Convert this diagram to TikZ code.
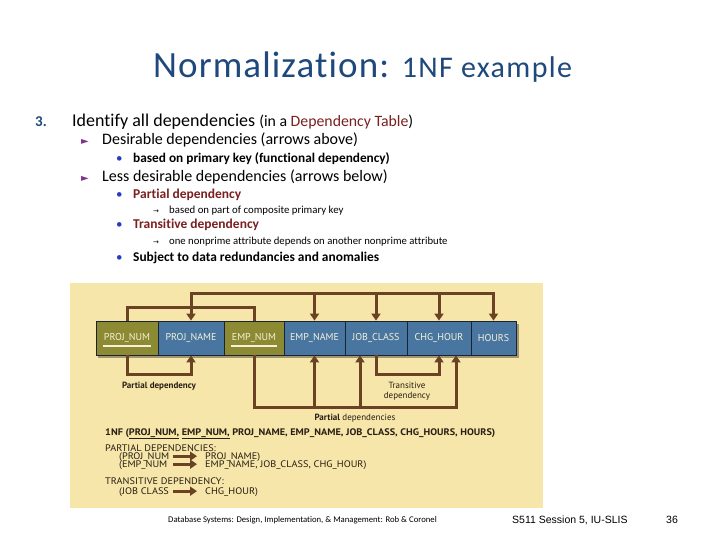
\documentclass[tikz,border=0pt]{standalone}
\usepackage{fontspec}
\setmainfont{Carlito}[Ligatures=NoCommon]
\newfontfamily\ptsans{PT Sans}
\newfontfamily\ptwide{PT Sans}[FakeStretch=1.08]
\newfontfamily\libsans{Liberation Sans}
\newfontfamily\dejavu{DejaVu Sans}
\usetikzlibrary{arrows.meta,calc}
\definecolor{titleblue}{RGB}{31,73,125}
\definecolor{darkred}{RGB}{122,32,32}
\definecolor{purp}{RGB}{128,50,140}
\definecolor{bulblue}{RGB}{40,60,190}
\definecolor{panel}{RGB}{246,230,170}
\definecolor{olivek}{RGB}{140,138,50}
\definecolor{steel}{RGB}{72,118,160}
\definecolor{brn}{RGB}{108,66,36}
\definecolor{cream}{RGB}{245,240,215}
\definecolor{ink}{RGB}{40,30,20}
\definecolor{sep}{RGB}{25,35,50}
\newcommand\fsz[1]{\fontsize{#1}{#1}\selectfont}
\begin{document}
\begin{tikzpicture}[x=1pt,y=-1pt,
  txt/.style={inner sep=0pt,anchor=base west},
  ctxt/.style={inner sep=0pt,anchor=base},
  attr/.style={draw=sep,line width=0.8pt,minimum height=34pt,inner sep=0pt,
     text=cream,font=\ptsans\fsz{10}},
  keyattr/.style={attr,fill=olivek},
  plainattr/.style={attr,fill=steel},
  conn/.style={draw=brn,line width=3pt},
  arr/.style={conn,-{Triangle[width=9pt,length=7pt]}},
  bigarr/.style={draw=brn,line width=3pt,-{Triangle[width=9pt,length=7pt]}},
  ptxt/.style={txt,text=ink,font=\ptwide\fsz{9.5}}
]
\useasboundingbox (0,0) rectangle (720,540);
\fill[white] (0,0) rectangle (720,540);

% title
\node[txt,text=titleblue] (title) at (153,78) {\fsz{37}\addfontfeature{LetterSpace=3}Normalization: \fsz{30}\addfontfeature{LetterSpace=4.5}1NF example};

% bullet list
\node[txt,text=titleblue] (n3) at (35,127) {\fsz{15}\bfseries 3.};
\node[txt] (l1) at (72,127) {\fsz{18}Identify all dependencies \fsz{15.8}(in a \textcolor{darkred}{Dependency Table})};
\node[txt,text=purp] (b1a) at (81,145) {\dejavu\fsz{10}►};
\node[txt] (l2) at (102,145) {\fsz{16}Desirable dependencies (arrows above)};
\node[txt,text=bulblue] (b2a) at (116,163) {\fsz{13}•};
\node[txt] (l3) at (133,163) {\fsz{13.3}\bfseries based on primary key (functional dependency)};
\node[txt,text=purp] (b1b) at (81,182) {\dejavu\fsz{10}►};
\node[txt] (l4) at (102,182) {\fsz{16}Less desirable dependencies (arrows below)};
\node[txt,text=bulblue] (b2b) at (116,199) {\fsz{13}•};
\node[txt,text=darkred] (l5) at (133,199) {\fsz{13.5}\bfseries Partial dependency};
\node[txt] (a1) at (153,214) {\dejavu\fsz{7}→};
\node[txt] (l6) at (169,214) {\fsz{10.8}based on part of composite primary key};
\node[txt,text=bulblue] (b2c) at (116,229) {\fsz{13}•};
\node[txt,text=darkred] (l7) at (133,229) {\fsz{13.5}\bfseries Transitive dependency};
\node[txt] (a2) at (153,244) {\dejavu\fsz{7}→};
\node[txt] (l8) at (169,244) {\fsz{10.7}one nonprime attribute depends on another nonprime attribute};
\node[txt,text=bulblue] (b2d) at (116,261) {\fsz{13}•};
\node[txt] (l9) at (133,261) {\fsz{13.4}\bfseries Subject to data redundancies and anomalies};

% panel
\fill[panel] (70,283) rectangle (543,508);
\fill[black,opacity=0.35] (98,324) rectangle (519,358);

\node[keyattr,minimum width=62pt] (pn) at (127,338) {PROJ\_NUM};
\node[plainattr,minimum width=66pt] (pname) at (191,338) {PROJ\_NAME};
\node[keyattr,minimum width=60pt] (en) at (254,338) {EMP\_NUM};
\node[plainattr,minimum width=61pt] (ename) at (314.5,338) {EMP\_NAME};
\node[plainattr,minimum width=62pt] (jc) at (376,338) {JOB\_CLASS};
\node[plainattr,minimum width=64pt] (ch) at (439,338) {CHG\_HOUR};
\node[plainattr,minimum width=45pt] (hr) at (493.5,338) {HOURS};
\draw[cream,line width=1.2pt] ($(pn.center)+(-24,8)$) -- ($(pn.center)+(24,8)$);
\draw[cream,line width=1.2pt] ($(en.center)+(-23,8)$) -- ($(en.center)+(23,8)$);

\coordinate (t1) at (0,307);
\coordinate (t2) at (0,293);
\coordinate (bb1) at (0,374);
\coordinate (bb2) at (0,407);
\coordinate (jcl) at ([xshift=-16pt]jc.south);
\coordinate (chr) at ([xshift=17pt]ch.south);

% arrows above
\draw[conn] (pn.north) -- (pn.north|-t1) -| (en.north);
\draw[conn,line cap=rect] (pname.north|-t2) -- (hr.north|-t2);
\draw[arr] (pname.north|-t2) -- (pname.north);
\draw[arr] (ename.north|-t2) -- (ename.north);
\draw[arr] (jc.north|-t2) -- (jc.north);
\draw[arr] (ch.north|-t2) -- (ch.north);
\draw[arr] (hr.north|-t2) -- (hr.north);

% arrows below
\draw[arr] (pn.south) -- (pn.south|-bb1) -| (pname.south);
\draw[arr] (jc.south) -- (jc.south|-bb1) -| (ch.south);
\draw[arr] (en.south) -- (en.south|-bb2) -| (chr);
\draw[arr] (ename.south|-bb2) -- (ename.south);
\draw[arr] (jcl|-bb2) -- (jcl);

\node[ctxt,text=ink,font=\ptsans\bfseries\fsz{9}] (lpd) at (159,388) {Partial dependency};
\node[ctxt,text=ink,font=\ptsans\fsz{9}] (ltd1) at (407,388) {Transitive};
\node[ctxt,text=ink,font=\ptsans\fsz{9}] (ltd2) at (407,398) {dependency};
\node[ctxt,text=ink,font=\ptsans\fsz{9}] (lpds) at (355,420) {\textbf{Partial} dependencies};

\node[ptxt,font=\ptwide\bfseries\fsz{9.5}] (nf) at (105,435) {1NF (\underline{PROJ\_NUM,} \underline{EMP\_NUM,} PROJ\_NAME, EMP\_NAME, JOB\_CLASS, CHG\_HOURS, HOURS)};
\node[ptxt] (pdh) at (105,451) {PARTIAL DEPENDENCIES:};
\node[ptxt] (pd1a) at (119,459) {(PROJ\_NUM};
\node[ptxt] (pd1b) at (205,459) {PROJ\_NAME)};
\node[ptxt] (pd2a) at (119,467) {(EMP\_NUM};
\node[ptxt] (pd2b) at (205,467) {EMP\_NAME, JOB\_CLASS, CHG\_HOUR)};
\node[ptxt] (tdh) at (105,484) {TRANSITIVE DEPENDENCY:};
\node[ptxt] (td1a) at (119,494) {(JOB CLASS};
\node[ptxt] (td1b) at (205,494) {CHG\_HOUR)};
\draw[bigarr] (pd1b.west -| 173,0) ++(0,-0.5) -- ++(24,0);
\draw[bigarr] (pd2b.west -| 173,0) ++(0,-0.5) -- ++(24,0);
\draw[bigarr] (td1b.west -| 173,0) ++(0,-0.5) -- ++(24,0);

% footer
\node[txt] (f1) at (168,522) {\fsz{8.7}Database Systems: Design, Implementation, \& Management: Rob \& Coronel};
\node[txt] (f2) at (512,523) {\libsans\fsz{10.5}S511 Session 5, IU-SLIS};
\node[txt] (f3) at (666,523) {\libsans\fsz{10.5}36};
\end{tikzpicture}
\end{document}
